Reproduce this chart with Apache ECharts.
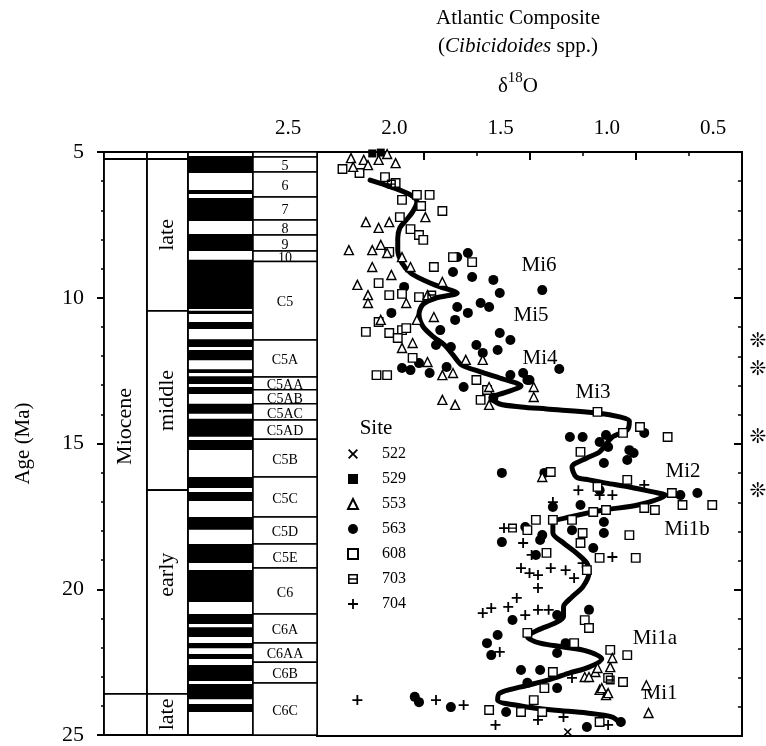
<!DOCTYPE html>
<html>
<head>
<meta charset="utf-8">
<script src="https://cdn.jsdelivr.net/npm/echarts@6/dist/echarts.min.js"></script>
<style>
html, body { margin: 0; padding: 0; background: #fff; }
#chart { width: 766px; height: 746px; }
</style>
</head>
<body>
<div id="chart"></div>
<script>
// stratigraphic columns (ages in Ma)
var epochs = [[5.0, 5.24, ''], [5.24, 23.59, 'Miocene'], [23.59, 25.0, '']];
var subepochs = [[5.0, 5.24, ''], [5.24, 10.45, 'late'], [10.45, 16.60, 'middle'],
    [16.60, 23.59, 'early', 19.5], [23.59, 25.0, 'late']];
// normal polarity (black) intervals
var normalPolarity = [[5.14, 5.72], [6.30, 6.44], [6.58, 7.37], [7.81, 8.40], [8.70, 10.39],
    [10.45, 10.56], [10.83, 11.07], [11.42, 11.69], [11.79, 12.14], [12.45, 12.58],
    [12.69, 12.96], [13.06, 13.30], [13.64, 13.98], [14.15, 14.77], [14.88, 15.22],
    [16.15, 16.53], [16.66, 16.97], [17.52, 17.96], [18.45, 19.10], [19.34, 20.44],
    [20.85, 21.19], [21.30, 21.64], [21.84, 22.02], [22.22, 22.39], [22.60, 23.15],
    [23.25, 23.77], [23.94, 24.21]];
var chronBounds = [5.17, 5.69, 6.54, 7.33, 7.85, 8.40, 8.76, 11.45, 12.72, 13.16, 13.64, 14.19,
    14.85, 16.15, 17.52, 18.45, 19.27, 20.85, 21.84, 22.50, 23.22, 25.0];
var chronNames = ['5', '6', '7', '8', '9', '10', 'C5', 'C5A', 'C5AA', 'C5AB', 'C5AC', 'C5AD',
    'C5B', 'C5C', 'C5D', 'C5E', 'C6', 'C6A', 'C6AA', 'C6B', 'C6C'];

// delta 18O [value, age]
var site522 = [[1.32, 24.86]];
var site529 = [[2.24, 5.05], [2.20, 5.02]];
var site553 = [[2.34, 5.21], [2.28, 5.27], [2.17, 5.07], [2.13, 5.38], [2.33, 5.51], [2.26, 5.45],
    [2.21, 5.27], [2.27, 7.40], [2.16, 7.40], [2.21, 7.60], [2.20, 8.18], [2.35, 8.36], [2.24, 8.36],
    [2.17, 8.46], [1.99, 7.23], [2.24, 8.94], [2.10, 8.60], [2.06, 8.94], [1.91, 9.45], [2.31, 9.55],
    [2.26, 9.90], [2.26, 10.17], [2.08, 10.17], [2.15, 9.21], [2.20, 10.75], [1.95, 10.65],
    [1.98, 9.90], [2.10, 11.71], [2.05, 11.54], [1.91, 12.64], [1.86, 12.57], [1.80, 12.12],
    [1.72, 12.12], [1.91, 13.49], [1.85, 13.66], [1.69, 13.05], [1.69, 13.66], [1.48, 13.39],
    [1.98, 12.19], [2.03, 10.75], [1.48, 13.05], [1.44, 16.13], [1.24, 22.98], [1.19, 22.81],
    [1.12, 22.64], [1.17, 23.42], [1.14, 23.60], [1.11, 22.33], [1.18, 22.67], [1.22, 22.98],
    [1.16, 23.36], [1.13, 23.53], [0.95, 23.26], [0.94, 24.21]];
var site563 = [[1.79, 8.46], [1.84, 8.60], [1.86, 9.11], [1.77, 9.28], [1.67, 9.38], [1.64, 9.83],
    [1.73, 10.17], [1.69, 10.31], [1.84, 10.31], [1.79, 10.51], [2.15, 10.51], [2.09, 9.62],
    [1.85, 10.75], [1.44, 9.73], [1.36, 12.43], [1.53, 12.57], [1.50, 12.81], [1.31, 14.76],
    [1.25, 14.76], [1.14, 14.69], [0.96, 14.62], [1.64, 11.20], [1.59, 11.44], [1.75, 11.61],
    [1.65, 11.78], [1.72, 11.88], [1.87, 11.68], [2.10, 12.40], [2.06, 12.47], [2.02, 12.23],
    [1.97, 12.57], [1.89, 12.36], [1.81, 13.05], [1.59, 12.64], [1.51, 12.81], [1.67, 13.42],
    [1.63, 15.99], [1.92, 11.10], [1.94, 11.61], [1.17, 14.93], [1.13, 15.10], [1.03, 15.21],
    [1.01, 15.31], [1.04, 15.55], [1.15, 15.65], [1.43, 15.99], [1.17, 16.58], [0.79, 16.75],
    [0.71, 16.68], [1.15, 17.67], [1.20, 18.56], [1.30, 17.95], [1.52, 17.84], [1.44, 18.12],
    [1.22, 20.68], [1.07, 24.52], [1.39, 17.16], [1.26, 17.09], [1.15, 18.05], [1.63, 18.36],
    [1.45, 18.29], [1.47, 18.80], [1.37, 20.86], [1.58, 21.03], [1.65, 21.54], [1.70, 21.82],
    [1.68, 22.23], [1.33, 21.82], [1.37, 22.16], [1.45, 22.74], [1.54, 22.74], [1.51, 23.18],
    [1.37, 23.36], [2.04, 23.66], [2.02, 23.84], [1.87, 24.01], [1.61, 24.18], [1.23, 24.69]];
var site608 = [[2.38, 5.58], [2.30, 5.72], [2.18, 5.86], [2.13, 6.06], [2.03, 6.47], [1.97, 6.47],
    [2.10, 6.64], [2.01, 6.85], [1.91, 7.02], [2.11, 7.23], [2.06, 7.64], [2.02, 7.84], [2.00, 8.01],
    [2.16, 8.42], [1.86, 8.60], [1.77, 8.77], [2.21, 9.49], [2.16, 9.90], [2.10, 9.86], [2.02, 9.97],
    [2.21, 10.82], [2.16, 11.20], [2.10, 11.10], [2.27, 11.16], [1.95, 8.94], [2.12, 11.37],
    [2.08, 11.03], [2.05, 12.05], [2.22, 12.64], [2.17, 12.64], [1.75, 12.81], [1.70, 13.15],
    [1.73, 13.49], [1.18, 13.90], [0.98, 14.42], [0.85, 14.76], [1.06, 14.62], [1.26, 15.27],
    [1.40, 15.96], [1.18, 16.47], [1.04, 16.23], [0.83, 16.68], [0.78, 17.09], [0.64, 17.09],
    [0.91, 17.26], [0.96, 17.19], [1.14, 17.26], [1.03, 18.12], [1.00, 18.90], [1.17, 18.90],
    [1.25, 18.05], [1.26, 18.39], [1.39, 17.60], [1.47, 17.60], [1.51, 17.95], [1.24, 21.03],
    [1.22, 21.30], [1.12, 22.05], [1.04, 22.23], [1.13, 23.01], [1.06, 23.15], [1.17, 24.52],
    [1.20, 17.33], [1.30, 17.60], [1.42, 18.73], [1.23, 19.32], [1.51, 21.47], [1.29, 21.82],
    [1.39, 22.81], [1.43, 23.36], [1.48, 23.77], [1.69, 24.11], [1.54, 24.18], [1.44, 24.18]];
var site703 = [[1.58, 17.88], [2.15, 6.10], [1.96, 9.90], [1.12, 23.08]];
var site704 = [[1.27, 16.58], [1.17, 16.75], [1.11, 16.75], [1.39, 16.99], [1.62, 17.88],
    [1.53, 18.39], [1.49, 18.80], [1.11, 18.87], [1.25, 19.08], [1.54, 19.25], [1.50, 19.42],
    [1.46, 19.49], [1.40, 19.25], [1.33, 19.32], [1.29, 19.59], [1.46, 19.93], [1.56, 20.27],
    [1.60, 20.58], [1.68, 20.62], [1.72, 20.79], [1.52, 20.86], [1.46, 20.68], [1.41, 20.68],
    [1.64, 22.12], [1.30, 23.01], [1.94, 23.77], [1.81, 23.94], [1.66, 24.62], [1.46, 24.45],
    [1.34, 24.35], [1.13, 24.62], [2.31, 23.77], [0.96, 16.40]];
// composite curve
var composite = [[2.25, 5.96], [2.15, 6.20], [2.06, 6.47], [2.03, 6.71], [2.05, 7.05], [2.08, 7.33],
    [2.11, 7.60], [2.12, 7.95], [2.12, 8.36], [2.10, 8.80], [2.06, 9.14], [2.00, 9.38], [1.92, 9.62],
    [1.84, 9.83], [1.94, 10.00], [2.00, 10.21], [2.02, 10.55], [2.00, 10.99], [1.95, 11.34],
    [1.90, 11.61], [1.86, 11.95], [1.82, 12.29], [1.73, 12.53], [1.64, 12.74], [1.54, 13.01],
    [1.62, 13.25], [1.68, 13.42], [1.64, 13.63], [1.54, 13.73], [1.42, 13.80], [1.18, 13.94],
    [1.07, 14.08], [1.03, 14.21], [1.04, 14.52], [1.11, 14.76], [1.17, 15.27], [1.23, 15.48],
    [1.30, 15.79], [1.28, 16.13], [1.22, 16.23], [1.14, 16.34], [1.03, 16.47], [0.92, 16.64],
    [0.86, 16.75], [0.99, 17.09], [1.15, 17.26], [1.31, 17.50], [1.39, 17.71], [1.39, 18.05],
    [1.34, 18.39], [1.28, 18.73], [1.23, 19.08], [1.22, 19.42], [1.25, 19.90], [1.30, 20.24],
    [1.34, 20.58], [1.34, 20.92], [1.38, 21.13], [1.46, 21.37], [1.51, 21.61], [1.45, 21.82],
    [1.34, 21.95], [1.23, 22.09], [1.16, 22.36], [1.22, 22.64], [1.31, 22.84], [1.41, 23.08],
    [1.54, 23.32], [1.64, 23.53], [1.65, 23.77], [1.54, 23.97], [1.39, 24.11], [1.23, 24.21],
    [1.11, 24.35], [1.07, 24.59]];

var serif = '"Liberation Serif", "Times New Roman", serif';
var myChart = echarts.init(document.getElementById('chart'));

// column edges on the hidden x axis of the left grid
var COLS = [0, 43, 84, 149, 213];

function columnSeries(name, x0, x1, rows, opt) {
    return {
        type: 'custom',
        name: name,
        xAxisIndex: 1,
        yAxisIndex: 0,
        silent: true,
        z: opt.z || 2,
        data: rows.map(function (r) { return [x0, r[0], x1, r[1]]; }),
        renderItem: function (params, api) {
            var r = rows[params.dataIndex];
            var p0 = api.coord([x0, r[0]]);
            var p1 = api.coord([x1, r[1]]);
            var children = [{
                type: 'rect',
                shape: {x: p0[0], y: p0[1], width: p1[0] - p0[0], height: p1[1] - p0[1]},
                style: {
                    fill: opt.fill,
                    stroke: opt.stroke,
                    lineWidth: opt.lineWidth
                }
            }];
            if (r[2]) {
                var ly = r[3] != null ? api.coord([x0, r[3]])[1] : (p0[1] + p1[1]) / 2;
                children.push({
                    type: 'text',
                    x: (p0[0] + p1[0]) / 2,
                    y: ly + (opt.dy || 0),
                    rotation: opt.rotate ? Math.PI / 2 : 0,
                    style: {
                        text: r[2],
                        fontSize: opt.fontSize,
                        fontFamily: serif,
                        fill: '#000',
                        align: 'center',
                        verticalAlign: 'middle'
                    }
                });
            }
            return {type: 'group', children: children};
        }
    };
}

var chronRows = [[5.0, chronBounds[0], '']];
for (var i = 0; i < chronNames.length; i++) {
    chronRows.push([chronBounds[i], chronBounds[i + 1], chronNames[i]]);
}

var symPlus = 'path://M4.1,0H5.9V4.1H10V5.9H5.9V10H4.1V5.9H0V4.1H4.1Z';
var symX = 'path://M0,1.3L1.3,0L5,3.7L8.7,0L10,1.3L6.3,5L10,8.7L8.7,10L5,6.3L1.3,10L0,8.7L3.7,5Z';
var sym703 = 'path://M0,0L10,0L10,10L0,10Z M1.6,1.6L1.6,4.2L8.4,4.2L8.4,1.6Z M1.6,5.8L1.6,8.4L8.4,8.4L8.4,5.8Z';

function siteSeries(name, data, symbol, size, fill, border) {
    return {
        type: 'scatter',
        name: name,
        data: data,
        xAxisIndex: 0,
        yAxisIndex: 1,
        symbol: symbol,
        symbolSize: size,
        silent: true,
        z: 4,
        itemStyle: {color: fill, borderColor: '#000', borderWidth: border, opacity: 1}
    };
}

var miLabels = [['Mi6', 539, 265], ['Mi5', 531, 315], ['Mi4', 540, 358], ['Mi3', 593, 392],
    ['Mi2', 683, 471], ['Mi1b', 687, 529], ['Mi1a', 655, 638], ['Mi1', 660, 693]];
var graphics = [
    {type: 'text', x: 518, y: 18, style: {text: 'Atlantic Composite', fontSize: 21, fontFamily: serif, fill: '#000', align: 'center', verticalAlign: 'middle'}},
    {type: 'text', x: 518, y: 46, style: {text: '({i|Cibicidoides} spp.)', fontSize: 21, fontFamily: serif, fill: '#000', align: 'center', verticalAlign: 'middle',
        rich: {i: {fontStyle: 'italic', fontSize: 21, fontFamily: serif}}}},
    {type: 'text', x: 518, y: 84, style: {text: '{a|δ}{s|18}{a|O}', fill: '#000', align: 'center', verticalAlign: 'middle',
        rich: {a: {fontSize: 21, fontFamily: serif, lineHeight: 26, verticalAlign: 'bottom'},
               s: {fontSize: 15, fontFamily: serif, lineHeight: 26, verticalAlign: 'top'}}}},
    {type: 'text', x: 376, y: 428, style: {text: 'Site', fontSize: 21, fontFamily: serif, fill: '#000', align: 'center', verticalAlign: 'middle'}}
];
miLabels.forEach(function (m) {
    graphics.push({type: 'text', x: m[1], y: m[2], style: {text: m[0], fontSize: 21, fontFamily: serif, fill: '#000', align: 'center', verticalAlign: 'middle'}});
});
[342, 370, 438, 492].forEach(function (y) {
    graphics.push({type: 'text', x: 758, y: y, style: {text: '❊', fontSize: 20, fontFamily: '"DejaVu Sans"', fill: '#000', align: 'center', verticalAlign: 'middle'}});
});

var option = {
    backgroundColor: '#fff',
    animation: false,
    grid: [
        {left: 317, right: 24, top: 152, bottom: 10, show: true, borderColor: '#000', borderWidth: 2},
        {left: 104, width: 213, top: 152, bottom: 10, show: true, borderColor: '#000', borderWidth: 2}
    ],
    xAxis: [{
        gridIndex: 0,
        type: 'value',
        position: 'top',
        min: 0.5,
        max: 2.5,
        interval: 0.5,
        inverse: true,
        axisLine: {show: true, lineStyle: {color: '#000', width: 2}},
        axisTick: {show: true, inside: true, length: 8, lineStyle: {color: '#000', width: 2}},
        minorTick: {show: true, splitNumber: 2, length: 4, lineStyle: {color: '#000', width: 1.5}},
        splitLine: {show: false},
        axisLabel: {
            margin: 13,
            color: '#000',
            fontFamily: serif,
            fontSize: 21,
            padding: [0, 58, 0, 0],
            formatter: function (v) { return v.toFixed(1); }
        }
    }, {
        gridIndex: 1,
        type: 'value',
        min: COLS[0],
        max: COLS[4],
        show: false
    }],
    yAxis: [{
        gridIndex: 1,
        type: 'value',
        min: 5,
        max: 25,
        interval: 5,
        inverse: true,
        position: 'left',
        name: 'Age (Ma)',
        nameLocation: 'middle',
        nameGap: 70,
        nameRotate: 90,
        nameTextStyle: {fontFamily: serif, fontSize: 21, color: '#000'},
        axisLine: {show: true, lineStyle: {color: '#000', width: 2}},
        axisTick: {show: true, inside: false, length: 7, lineStyle: {color: '#000', width: 2}},
        minorTick: {show: true, splitNumber: 5, length: 3, lineStyle: {color: '#000', width: 1.5}},
        splitLine: {show: false},
        axisLabel: {margin: 20, color: '#000', fontFamily: serif, fontSize: 22}
    }, {
        gridIndex: 0,
        type: 'value',
        min: 5,
        max: 25,
        interval: 5,
        inverse: true,
        position: 'right',
        axisLine: {show: true, lineStyle: {color: '#000', width: 2}},
        axisTick: {show: true, inside: true, length: 8, lineStyle: {color: '#000', width: 2}},
        minorTick: {show: true, splitNumber: 5, length: 4, lineStyle: {color: '#000', width: 1.5}},
        splitLine: {show: false},
        axisLabel: {show: false}
    }],
    legend: {
        data: ['522', '529', '553', '563', '608', '703', '704'],
        orient: 'vertical',
        left: 347,
        top: 446,
        padding: 0,
        itemWidth: 10,
        itemHeight: 10,
        itemGap: 9,
        selectedMode: false,
        textStyle: {fontFamily: serif, fontSize: 16, color: '#000', lineHeight: 16, padding: [0, 0, 0, 19]}
    },
    graphic: graphics,
    series: [
        columnSeries('epoch', COLS[0], COLS[1], epochs, {fill: '#fff', stroke: '#000', lineWidth: 1.8, fontSize: 22, rotate: true}),
        columnSeries('subepoch', COLS[1], COLS[2], subepochs, {fill: '#fff', stroke: '#000', lineWidth: 1.8, fontSize: 22, rotate: true}),
        columnSeries('polarityBg', COLS[2], COLS[3], [[5.0, 25.0, '']], {fill: '#fff', stroke: '#000', lineWidth: 1.8}),
        columnSeries('polarity', COLS[2], COLS[3], normalPolarity, {fill: '#000', stroke: null, lineWidth: 0, z: 3}),
        columnSeries('chron', COLS[3], COLS[4], chronRows, {fill: '#fff', stroke: '#000', lineWidth: 1.5, fontSize: 14, dy: 2}),
        {
            type: 'line',
            name: 'composite',
            data: composite,
            xAxisIndex: 0,
            yAxisIndex: 1,
            showSymbol: false,
            smooth: 0.3,
            silent: true,
            z: 3,
            lineStyle: {color: '#000', width: 5, cap: 'round', join: 'round'}
        },
        siteSeries('563', site563, 'circle', 10, '#000', 0),
        siteSeries('704', site704, symPlus, 10, '#000', 0),
        siteSeries('608', site608, 'rect', 8.5, '#fff', 1.4),
        siteSeries('553', site553, 'triangle', 9, '#fff', 1.4),
        siteSeries('703', site703, sym703, 9, '#000', 0),
        siteSeries('529', site529, 'rect', 8, '#000', 0),
        siteSeries('522', site522, symX, 8, '#000', 0)
    ]
};

myChart.setOption(option);
</script>
</body>
</html>
